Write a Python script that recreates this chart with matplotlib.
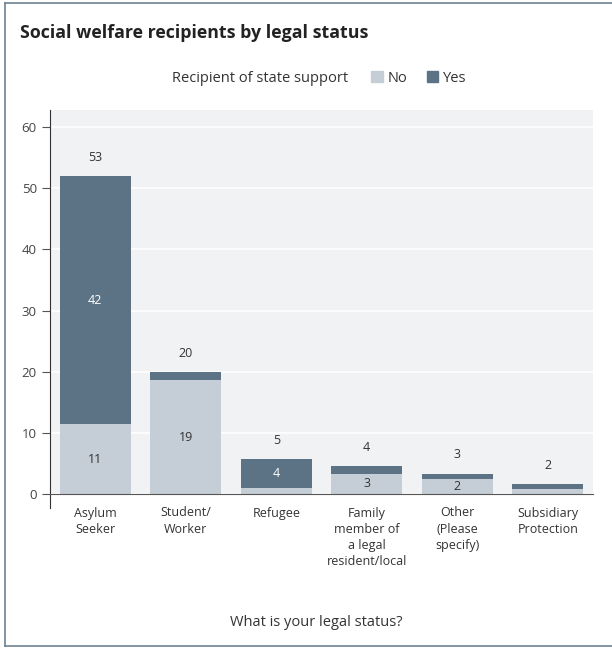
import matplotlib.pyplot as plt
from matplotlib.patches import Patch
from matplotlib.lines import Line2D

plt.rcParams['font.family'] = ['Open Sans', 'DejaVu Sans']

categories = ["Asylum\nSeeker", "Student/\nWorker", "Refugee",
              "Family\nmember of\na legal\nresident/local",
              "Other\n(Please\nspecify)", "Subsidiary\nProtection"]
no_vals = [11.4, 18.6, 1.0, 3.3, 2.5, 0.8]
yes_vals = [40.6, 1.3, 4.7, 1.2, 0.8, 0.8]
no_labels = ["11", "19", None, "3", "2", None]
yes_labels = ["42", None, "4", None, None, None]
total_labels = ["53", "20", "5", "4", "3", "2"]

c_no = "#c5ced6"
c_yes = "#5c7385"
txt = "#333333"

fig = plt.figure(figsize=(6.12, 6.48), dpi=100)
ax = fig.add_axes([50/612, 1-494/648, 543/612, 384/648])
ax.set_facecolor("#f1f2f4")

x = range(len(categories))
ax.bar(x, no_vals, width=0.785, color=c_no, zorder=2)
ax.bar(x, yes_vals, width=0.785, bottom=no_vals, color=c_yes, zorder=2)

for i in x:
    top = no_vals[i] + yes_vals[i]
    if no_labels[i]:
        ax.text(i, no_vals[i]/2, no_labels[i], ha='center', va='center',
                fontsize=9, color=txt, zorder=3)
    if yes_labels[i]:
        ax.text(i, no_vals[i] + yes_vals[i]/2, yes_labels[i], ha='center',
                va='center', fontsize=9, color='white', zorder=3)
    ax.annotate(total_labels[i], (i, top), xytext=(0, 9), textcoords='offset points',
                ha='center', va='bottom', fontsize=9, color=txt)

ax.set_xlim(-0.5, 5.5)
ax.set_ylim(0, 62.8)
ax.set_yticks(range(0, 61, 10))
ax.yaxis.grid(True, color='white', linewidth=1.2, zorder=1)
ax.set_axisbelow(True)
for s in ['top', 'right']:
    ax.spines[s].set_visible(False)
ax.spines['left'].set_color('#333333')
ax.spines['bottom'].set_color('#555555')
ax.tick_params(axis='y', length=6, color='#555555', labelsize=9.5, labelcolor='#444444')
ax.tick_params(axis='x', length=0, pad=9, labelsize=9, labelcolor=txt)
ax.set_xticks(list(x))
ax.set_xticklabels(categories, linespacing=1.32, va='top')
ax.plot([0, 0], [-0.036, 0], transform=ax.transAxes, color='#333333',
        linewidth=0.8, clip_on=False)

fig.text(20/612, 1-33/648, "Social welfare recipients by legal status",
         fontsize=12.8, fontweight='bold', color='#222222', va='center')
fig.text(348/612, 1-78/648, "Recipient of state support", fontsize=10.5,
         color=txt, va='center', ha='right')
handles = [Patch(color=c_no), Patch(color=c_yes)]
fig.legend(handles, ["No", "Yes"], ncol=2, loc='center left',
           bbox_to_anchor=(358/612, 1-78/648), frameon=False, fontsize=10.5,
           handlelength=0.8, handleheight=0.8, handletextpad=0.35,
           columnspacing=1.3, labelcolor=txt)
fig.text(316/612, 1-622/648, "What is your legal status?", fontsize=10.5,
         color=txt, ha='center', va='center')

border = '#6f8291'
fig.add_artist(Line2D([5/612, 5/612], [1-646/648, 1-3/648], color=border, linewidth=1.2))
fig.add_artist(Line2D([5/612, 1], [1-3/648, 1-3/648], color=border, linewidth=1.2))
fig.add_artist(Line2D([5/612, 1], [1-646/648, 1-646/648], color=border, linewidth=1.2))

fig.savefig("out.png", dpi=100)
